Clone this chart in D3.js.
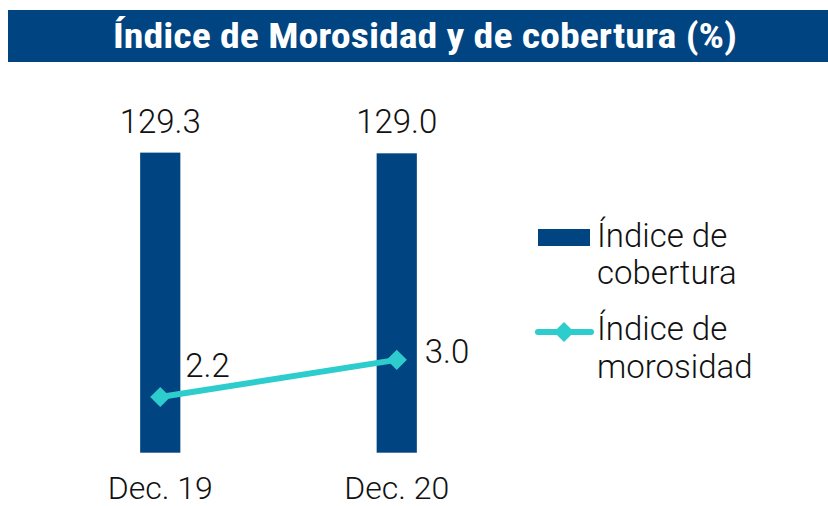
<!DOCTYPE html>
<html>
<head>
<meta charset="utf-8">
<script src="https://cdn.jsdelivr.net/npm/d3@7"></script>
<style>
  body { margin: 0; background: #fff; }
  text { font-family: Roboto, "Liberation Sans", sans-serif; font-weight: 300; fill: #111; }
</style>
</head>
<body>
<script>
var periods = ['Dec. 19', 'Dec. 20'];
var cobertura = [129.3, 129.0];
var morosidad = [2.2, 3.0];
var titleText = 'Índice de Morosidad y de cobertura (%)';

var width = 828;
var height = 506;
var navy = '#004481';
var aqua = '#2dcccd';

var svg = d3.select('body').append('svg')
  .attr('width', width)
  .attr('height', height);

// title band
svg.append('rect')
  .attr('x', 8).attr('y', 10)
  .attr('width', width - 8).attr('height', 52)
  .attr('fill', navy);

svg.append('text')
  .attr('x', 425).attr('y', 48)
  .attr('text-anchor', 'middle')
  .attr('textLength', 624)
  .attr('lengthAdjust', 'spacingAndGlyphs')
  .style('font-family', '"Liberation Sans Narrow", "Roboto Condensed", "Liberation Sans", sans-serif')
  .style('font-weight', 'bold')
  .style('font-size', '35px')
  .style('fill', '#fff')
  .text(titleText);

var x = d3.scaleBand()
  .domain(periods)
  .range([42, 515])
  .paddingInner(0.83)
  .paddingOuter(0.415);

var yBar = d3.scaleLinear().domain([0, 130]).range([452.7, 151]);
var yLine = d3.scaleLinear().domain([1, 7.5]).range([452.7, 151]);

function cx(d, i) { return x(periods[i]) + x.bandwidth() / 2; }

// bars
svg.selectAll('.bar')
  .data(cobertura)
  .enter().append('rect')
  .attr('class', 'bar')
  .attr('x', function(d, i) { return x(periods[i]); })
  .attr('width', x.bandwidth())
  .attr('y', function(d) { return yBar(d); })
  .attr('height', function(d) { return yBar(0) - yBar(d); })
  .attr('fill', navy);

svg.selectAll('.bar-label')
  .data(cobertura)
  .enter().append('text')
  .attr('class', 'bar-label')
  .attr('x', cx)
  .attr('y', function(d) { return yBar(d) - 20; })
  .attr('text-anchor', 'middle')
  .style('font-size', '33px')
  .text(function(d) { return d.toFixed(1); });

// line
var line = d3.line()
  .x(function(d, i) { return cx(d, i); })
  .y(function(d) { return yLine(d); });

svg.append('path')
  .datum(morosidad)
  .attr('d', line)
  .attr('fill', 'none')
  .attr('stroke', aqua)
  .attr('stroke-width', 6);

var diamond = d3.symbol().type(d3.symbolDiamond2).size(260);

svg.selectAll('.pt')
  .data(morosidad)
  .enter().append('path')
  .attr('class', 'pt')
  .attr('d', diamond)
  .attr('transform', function(d, i) { return 'translate(' + cx(d, i) + ',' + yLine(d) + ')'; })
  .attr('fill', aqua);

// label offsets as placed in the original
var lineLabelOffsets = [[25, -20], [28, 3]];
svg.selectAll('.pt-label')
  .data(morosidad)
  .enter().append('text')
  .attr('class', 'pt-label')
  .attr('x', function(d, i) { return cx(d, i) + lineLabelOffsets[i][0]; })
  .attr('y', function(d, i) { return yLine(d) + lineLabelOffsets[i][1]; })
  .style('font-size', '33px')
  .text(function(d) { return d.toFixed(1); });

// x axis labels
svg.append('g')
  .attr('transform', 'translate(0,' + 452.7 + ')')
  .call(d3.axisBottom(x).tickSize(0).tickPadding(24))
  .call(function(g) {
    g.select('.domain').remove();
    g.selectAll('text')
      .style('font-family', 'Roboto, "Liberation Sans", sans-serif')
      .style('font-weight', 300)
      .style('font-size', '32px')
      .attr('fill', '#111');
  });

// legend
var legend = svg.append('g').attr('transform', 'translate(538,0)');

legend.append('rect')
  .attr('x', 0).attr('y', 229)
  .attr('width', 52).attr('height', 17)
  .attr('fill', navy);

legend.append('line')
  .attr('x1', 0).attr('x2', 53)
  .attr('y1', 332).attr('y2', 332)
  .attr('stroke', aqua)
  .attr('stroke-width', 6)
  .attr('stroke-linecap', 'round');

legend.append('path')
  .attr('d', diamond)
  .attr('transform', 'translate(26,332)')
  .attr('fill', aqua);

var legendLines = [
  ['Índice de', 247], ['cobertura', 284],
  ['Índice de', 340], ['morosidad', 378]
];
legend.selectAll('.leg-text')
  .data(legendLines)
  .enter().append('text')
  .attr('class', 'leg-text')
  .attr('x', 59)
  .attr('y', function(d) { return d[1]; })
  .style('font-size', '33px')
  .text(function(d) { return d[0]; });
</script>
</body>
</html>
